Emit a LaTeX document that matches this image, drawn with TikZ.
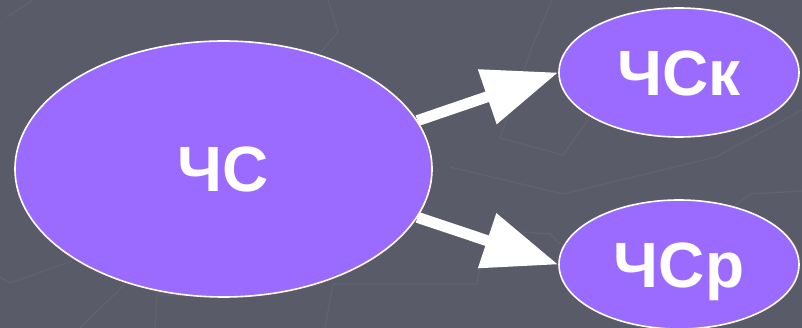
\documentclass[tikz,border=0pt]{standalone}
\usepackage{fontspec}
\setmainfont{Liberation Sans}
\usetikzlibrary{shapes.geometric,arrows.meta}
\definecolor{bgc}{RGB}{90,91,105}
\definecolor{bgline}{RGB}{97,98,111}
\definecolor{violet}{RGB}{155,107,255}
\tikzset{
  oval/.style={ellipse, draw=white, line width=1.6pt, fill=violet, inner sep=0pt,
    text=white, font=\bfseries\fontsize{64}{64}\selectfont, text height=46pt, text depth=0pt},
  bigarrow/.style={draw=white, line width=11pt, -{Triangle[length=75pt,width=55pt]}},
  faint/.style={draw=bgline, line width=1.5pt, line join=round}
}
\begin{document}
\begin{tikzpicture}[x=1pt,y=-1pt]
\fill[bgc] (0,0) rectangle (802,328);
\useasboundingbox (0,0) rectangle (802,328);
% faint background lines
\draw[faint] (7,17) -- (33,0);
\draw[faint] (328,0) -- (338,32) -- (320,53);
\draw[faint] (552,0) -- (532,47) -- (500,138) -- (563,155) -- (588,120);
\draw[faint] (450,167) -- (563,194) -- (716,157) -- (802,110);
\draw[faint] (733,207) -- (750,194) -- (802,191);
\draw[faint] (0,277) -- (10,283) -- (72,261);
\draw[faint] (80,328) -- (125,284);
\draw[faint] (155,328) -- (157,294) -- (187,296);
\draw[faint] (325,328) -- (333,284) -- (477,284) -- (480,264);
\draw[faint] (523,232) -- (550,234) -- (560,244);
% nodes
\node[oval, minimum width=417pt, minimum height=256pt] (cs) at (223.5,169) {ЧС};
\node[oval, minimum width=240pt, minimum height=129pt] (csk) at (679,72.5) {ЧСк};
\node[oval, minimum width=240pt, minimum height=129pt] (csp) at (679,264.5) {ЧСр};
% connectors
\draw[bigarrow] (cs.14) -- (csk.west);
\draw[bigarrow] (cs.-14) -- (csp.west);
\end{tikzpicture}
\end{document}
